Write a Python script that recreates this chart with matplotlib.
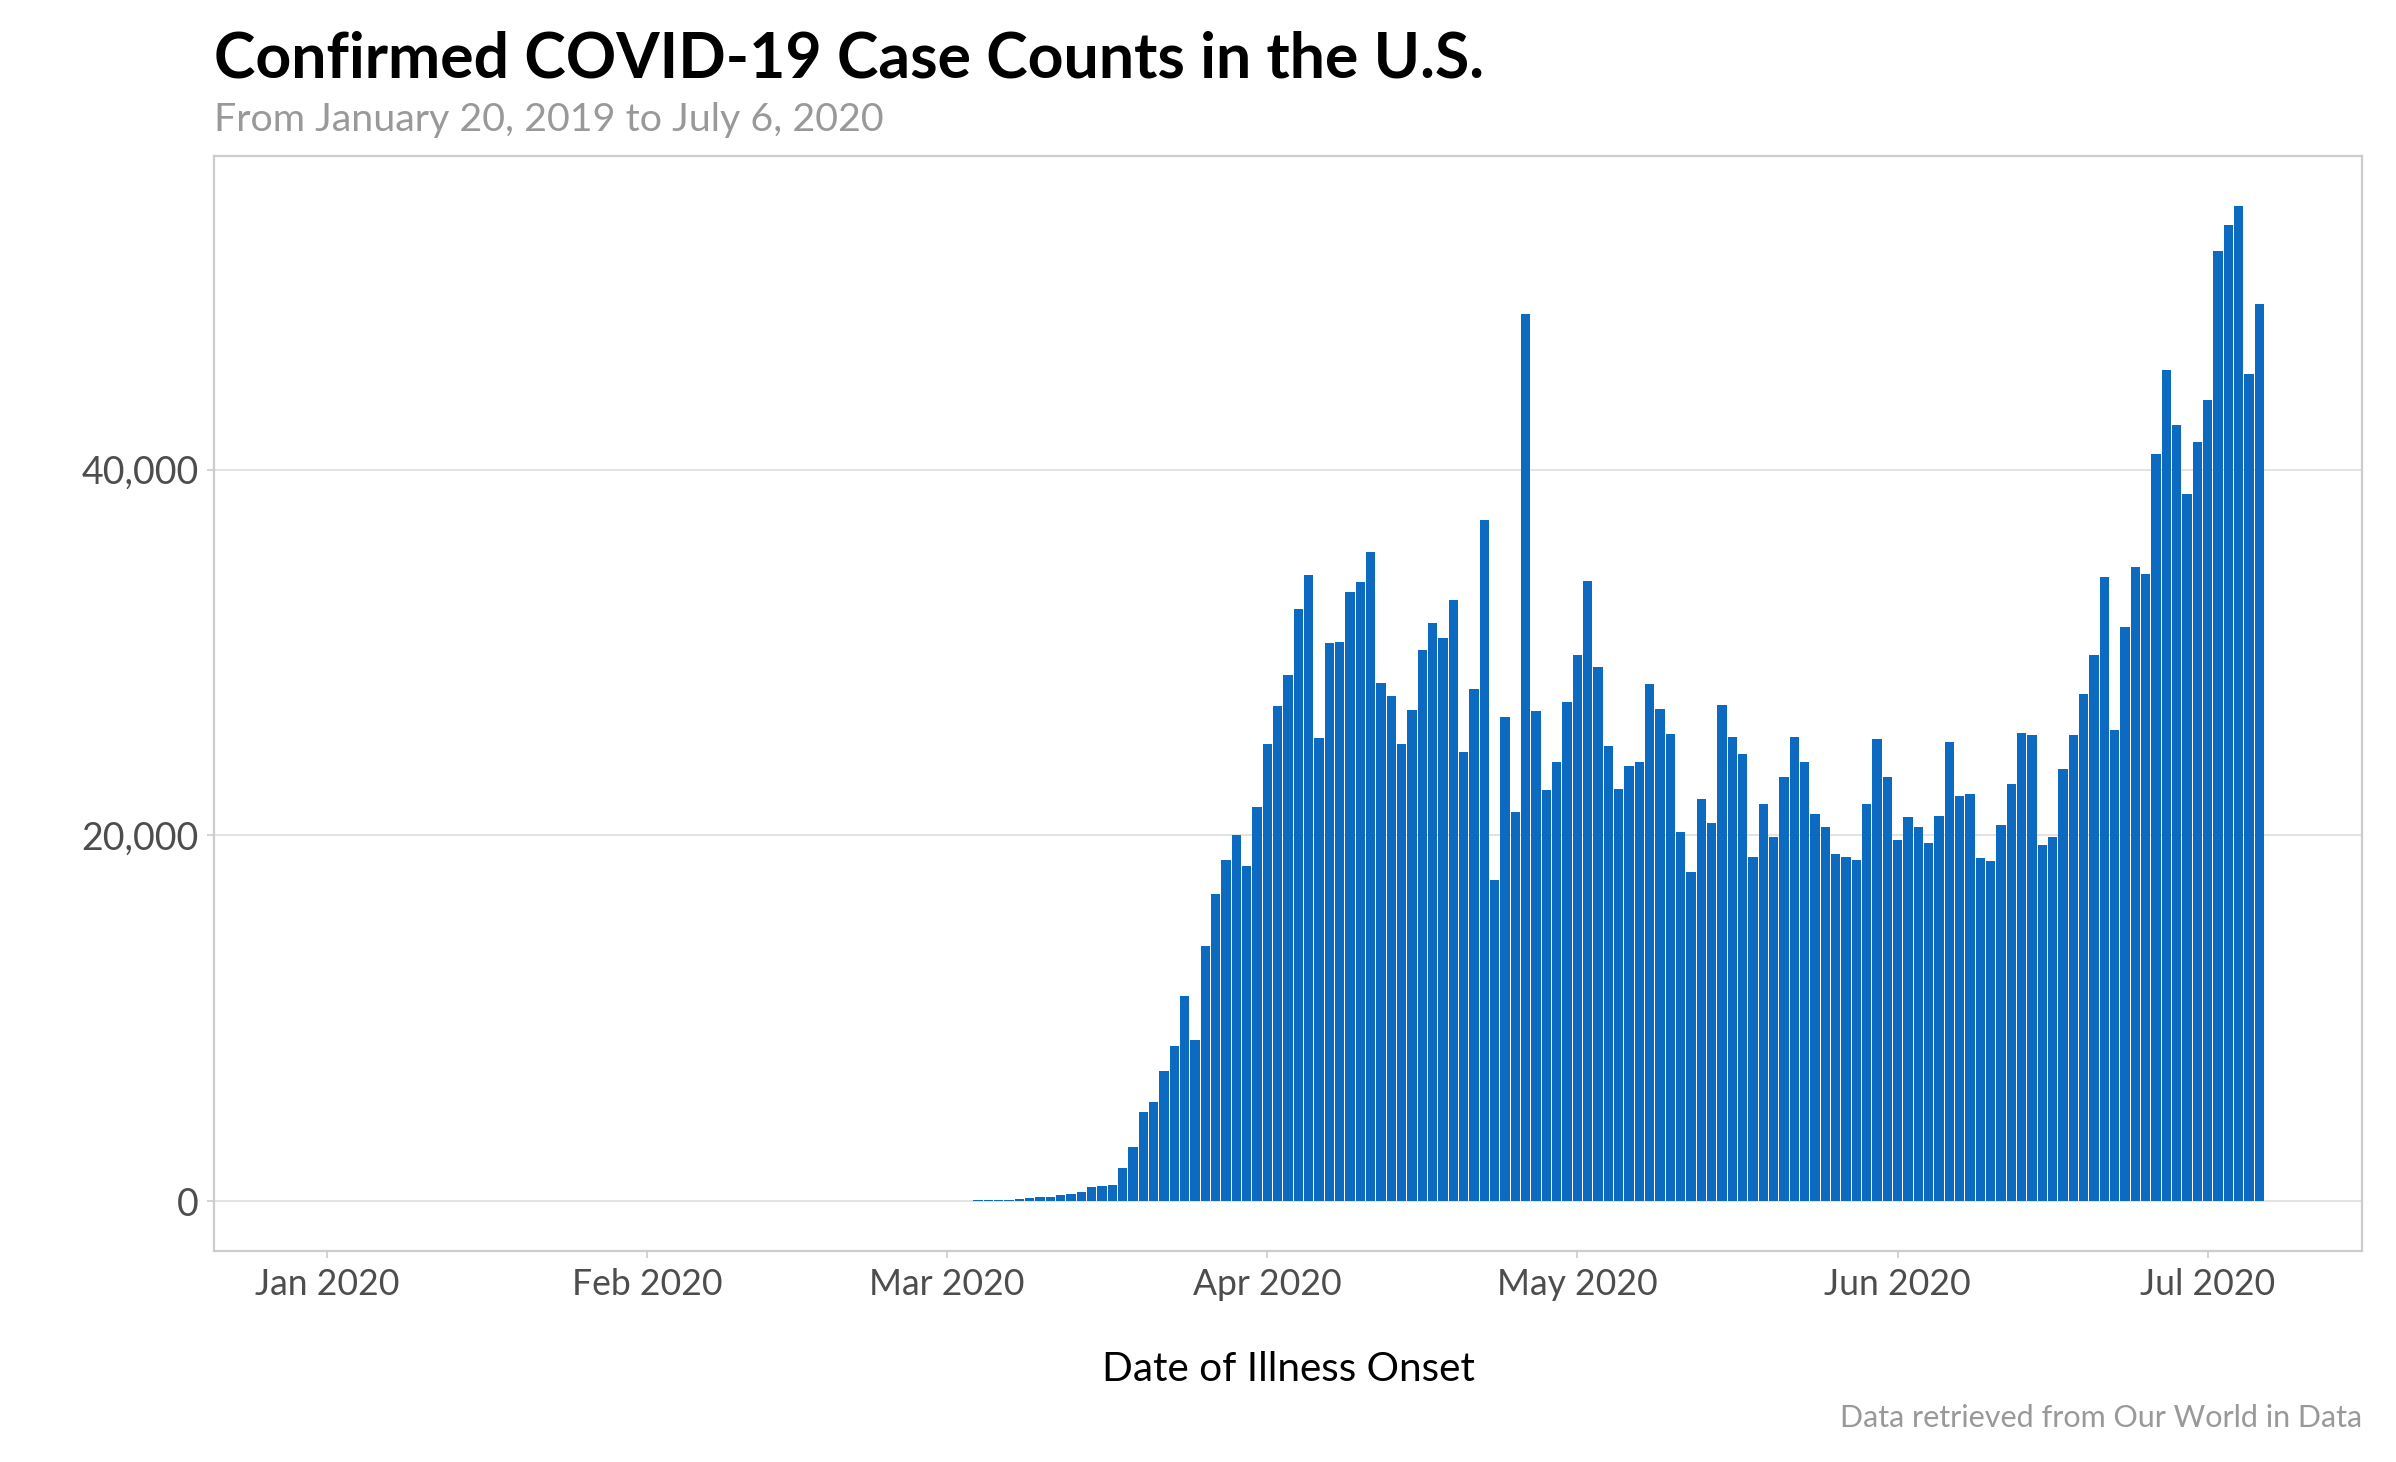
import matplotlib
matplotlib.use('Agg')
import matplotlib.pyplot as plt
import matplotlib.dates as mdates
from matplotlib.ticker import FuncFormatter
import numpy as np
import pandas as pd

# Daily confirmed cases, Dec 31 2019 .. Jul 6 2020
dec_jan = [0, 0, 0, 0, 0, 0, 0, 0, 0, 0, 0, 0, 0, 0, 0, 0, 0, 0, 0, 0, 0,
           1, 0, 0, 1, 0, 3, 0, 0, 0, 0, 1]
feb = [1, 1, 3, 0, 0, 0, 0, 0, 0, 1, 0, 1, 0, 1, 0, 0, 0, 0, 0, 0, 0,
       19, 0, 0, 18, 0, 1, 0, 5]
mar = [3, 30, 35, 40, 45, 90, 90, 95, 150, 220, 257, 334, 386, 514, 771,
       823, 874, 1800, 2983, 4860, 5400, 7122, 8485, 11236, 8793, 13961,
       16789, 18666, 20003, 18357, 21571]
apr = [24991, 27099, 28796, 32370, 34247, 25351, 30545, 30596, 33296, 33887,
       35506, 28333, 27613, 24991, 26868, 30133, 31624, 30802, 32884, 24580,
       28025, 37228, 17586, 26470, 21300, 48516, 26790, 22500, 24036, 27284]
may = [29882, 33916, 29232, 24890, 22531, 23796, 24036, 28309, 26907, 25540,
       20172, 18018, 21984, 20685, 27112, 25403, 24446, 18804, 21745, 19932,
       23215, 25369, 24036, 21163, 20480, 18975, 18804, 18634, 21745, 25266,
       23215]
jun = [19762, 21027, 20480, 19591, 21061, 25120, 22180, 22250, 18765, 18600,
       20550, 22815, 25609, 25494, 19485, 19906, 23657, 25494, 27715, 29858,
       34146, 25762, 31390, 34682, 34299, 40883, 45477, 42453, 38663, 41534]
jul = [43831, 51984, 53400, 54434, 45209, 49075]

cases = np.array(dec_jan + feb + mar + apr + may + jun + jul)
dates = pd.date_range('2019-12-31', periods=len(cases), freq='D')

title = 'Confirmed COVID-19 Case Counts in the U.S.'
subtitle = 'From January 20, 2019 to July 6, 2020'
caption = 'Data retrieved from Our World in Data'

plt.rcParams['font.family'] = ['Lato', 'DejaVu Sans']

W, H = 2396, 1462
fig = plt.figure(figsize=(W / 200, H / 200), dpi=200)
ax = fig.add_axes([214 / W, 1 - 1251 / H, (2362 - 214) / W, (1251 - 156) / H])

x = mdates.date2num(dates)
ax.bar(x, cases, width=0.9, color='#0c6bc1', linewidth=0, zorder=2)

# ggplot-like 5% expansion
span = (x[-1] + 0.5) - (x[0] - 0.5)
ax.set_xlim(x[0] - 0.5 - 0.05 * span, x[-1] + 0.5 + 0.05 * span)
ymax = cases.max()
ax.set_ylim(-0.05 * ymax, 1.05 * ymax)

ax.xaxis.set_major_locator(mdates.MonthLocator())
ax.xaxis.set_major_formatter(mdates.DateFormatter('%b %Y'))
ax.set_yticks([0, 20000, 40000])
ax.yaxis.set_major_formatter(FuncFormatter(lambda v, p: f'{int(v):,}'))

ax.grid(axis='y', color='#e3e3e3', linewidth=0.7, zorder=0)
ax.grid(axis='x', visible=False)
for s in ax.spines.values():
    s.set_color('#cccccc')
    s.set_linewidth(0.8)
ax.tick_params(axis='both', colors='#cccccc', length=2.6, width=0.6,
               labelcolor='#4d4d4d', labelsize=13.5, pad=3)
ax.tick_params(axis='x', pad=3.5, labelsize=12.8)

ax.set_xlabel('Date of Illness Onset', fontsize=14.6, color='black', labelpad=18)

fig.text(214 / W, 1 - 77 / H, title, fontsize=22.5, fontweight='bold',
         color='black', ha='left', va='baseline')
fig.text(214 / W, 1 - 131 / H, subtitle, fontsize=14.2, color='#999999',
         ha='left', va='baseline')
fig.text(2362 / W, 1 - 1427 / H, caption, fontsize=11, color='#999999',
         ha='right', va='baseline')

fig.savefig('out.png', dpi=200, facecolor='white')
